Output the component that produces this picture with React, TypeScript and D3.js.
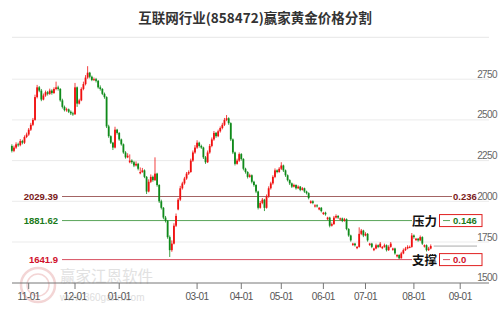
import React from 'react';
import * as d3 from 'd3';

const W = 499;
const H = 309;

const closes = [
  2310, 2330, 2350, 2345, 2370, 2360, 2395, 2410, 2440, 2470,
  2500, 2640, 2700, 2680, 2625, 2650, 2670, 2660, 2680, 2665,
  2690, 2700, 2690, 2620, 2580, 2560, 2565, 2550, 2540, 2535,
  2700, 2600, 2620, 2690, 2720, 2760, 2790, 2765, 2745, 2750,
  2740, 2700, 2690, 2660, 2640, 2460, 2400, 2360, 2330, 2440,
  2420, 2380, 2350, 2300, 2270, 2280, 2250, 2240, 2220, 2230,
  2200, 2180, 2190, 2150, 2060, 2120, 2150, 2130, 2170, 2100,
  2000, 1960, 1900, 1880, 1780, 1700, 1740, 1850, 1910, 2010,
  2080, 2110, 2140, 2170, 2180, 2250, 2300, 2330, 2360, 2340,
  2330, 2270, 2240, 2300, 2340, 2380, 2420, 2400, 2430, 2450,
  2470, 2500, 2510, 2480, 2380, 2300, 2230, 2250, 2290, 2260,
  2200, 2180, 2150, 2160, 2120, 2100, 2060, 1960, 1990, 2010,
  1960, 2030, 2080, 2110, 2150, 2190, 2180, 2200, 2220, 2190,
  2160, 2130, 2110, 2090, 2100, 2080, 2090, 2070, 2080, 2060,
  2050, 2020, 2000, 1990, 1975, 1970, 1960, 1940, 1930, 1920,
  1900, 1850, 1860, 1900, 1910, 1900, 1895, 1880, 1890, 1830,
  1790, 1760, 1740, 1730, 1720, 1800, 1820, 1790, 1800, 1760,
  1740, 1720, 1710, 1730, 1720, 1740, 1720, 1730, 1700, 1720,
  1740, 1710, 1680, 1670, 1650, 1680, 1700, 1710, 1720, 1720,
  1790, 1780, 1770, 1760, 1780, 1740, 1730, 1700, 1710, 1725,
];

const opens = [
  2340, 2310, 2330, 2350, 2345, 2370, 2360, 2395, 2410, 2440,
  2470, 2500, 2640, 2700, 2680, 2625, 2650, 2670, 2660, 2680,
  2665, 2690, 2700, 2690, 2620, 2580, 2560, 2565, 2550, 2540,
  2535, 2700, 2600, 2620, 2690, 2720, 2760, 2790, 2765, 2745,
  2750, 2740, 2700, 2690, 2660, 2640, 2460, 2400, 2360, 2330,
  2440, 2420, 2380, 2350, 2300, 2270, 2240, 2250, 2240, 2220,
  2230, 2172, 2180, 2190, 2150, 2060, 2120, 2150, 2130, 2170,
  2100, 2000, 1960, 1900, 1880, 1780, 1700, 1740, 1850, 1950,
  2010, 2080, 2110, 2140, 2170, 2180, 2250, 2300, 2330, 2360,
  2340, 2330, 2270, 2240, 2300, 2340, 2380, 2420, 2400, 2430,
  2450, 2470, 2500, 2510, 2480, 2380, 2300, 2230, 2250, 2290,
  2260, 2200, 2180, 2150, 2160, 2120, 2100, 2060, 1960, 1990,
  2010, 1960, 2030, 2080, 2110, 2150, 2190, 2180, 2200, 2220,
  2190, 2160, 2130, 2110, 2090, 2100, 2080, 2090, 2070, 2080,
  2060, 2050, 1990, 2000, 1968, 1975, 1950, 1960, 1922, 1930,
  1890, 1900, 1850, 1860, 1900, 1910, 1888, 1895, 1880, 1890,
  1830, 1790, 1732, 1740, 1712, 1720, 1800, 1820, 1790, 1800,
  1732, 1740, 1700, 1710, 1730, 1720, 1712, 1720, 1730, 1700,
  1720, 1702, 1710, 1662, 1670, 1650, 1680, 1700, 1710, 1720,
  1720, 1790, 1762, 1770, 1760, 1780, 1722, 1730, 1700, 1710,
];

const highs = [
  2350, 2342, 2362, 2360, 2382, 2378, 2405, 2422, 2450, 2482,
  2512, 2655, 2715, 2708, 2690, 2662, 2680, 2678, 2692, 2688,
  2700, 2735, 2710, 2695, 2630, 2588, 2575, 2570, 2558, 2550,
  2727, 2705, 2630, 2700, 2735, 2775, 2830, 2795, 2772, 2760,
  2758, 2745, 2712, 2695, 2668, 2645, 2470, 2405, 2365, 2458,
  2445, 2425, 2385, 2355, 2308, 2295, 2288, 2258, 2248, 2245,
  2236, 2208, 2205, 2196, 2155, 2135, 2165, 2158, 2270, 2175,
  2105, 2010, 1965, 1910, 1885, 1790, 1760, 1865, 1925, 2020,
  2095, 2120, 2150, 2180, 2190, 2262, 2312, 2345, 2375, 2366,
  2348, 2335, 2278, 2312, 2352, 2392, 2432, 2426, 2440, 2460,
  2482, 2512, 2530, 2516, 2485, 2386, 2305, 2262, 2300, 2296,
  2265, 2206, 2185, 2170, 2165, 2126, 2105, 2065, 2002, 2020,
  2015, 2042, 2092, 2120, 2160, 2202, 2196, 2210, 2240, 2225,
  2195, 2165, 2135, 2115, 2108, 2104, 2098, 2094, 2088, 2084,
  2065, 2055, 2006, 2006, 1982, 1982, 1965, 1965, 1935, 1936,
  1905, 1905, 1870, 1910, 1920, 1915, 1900, 1900, 1898, 1895,
  1835, 1795, 1745, 1745, 1725, 1840, 1830, 1825, 1810, 1805,
  1745, 1745, 1715, 1740, 1735, 1750, 1725, 1740, 1735, 1730,
  1750, 1715, 1715, 1675, 1675, 1690, 1710, 1720, 1730, 1728,
  1805, 1796, 1775, 1775, 1790, 1785, 1735, 1735, 1720, 1735,
];

const lows = [
  2300, 2302, 2322, 2335, 2338, 2350, 2352, 2388, 2402, 2432,
  2462, 2495, 2632, 2670, 2615, 2620, 2642, 2650, 2654, 2655,
  2660, 2682, 2680, 2612, 2570, 2552, 2550, 2542, 2530, 2525,
  2530, 2580, 2595, 2615, 2682, 2712, 2752, 2755, 2738, 2740,
  2730, 2692, 2680, 2652, 2630, 2450, 2390, 2352, 2315, 2325,
  2410, 2372, 2342, 2292, 2262, 2265, 2234, 2230, 2210, 2214,
  2190, 2166, 2175, 2142, 2045, 2055, 2112, 2120, 2125, 2090,
  1990, 1950, 1890, 1870, 1770, 1658, 1690, 1735, 1842, 1945,
  2002, 2072, 2102, 2132, 2162, 2175, 2242, 2292, 2322, 2330,
  2322, 2260, 2230, 2235, 2292, 2332, 2372, 2390, 2394, 2422,
  2442, 2462, 2492, 2470, 2370, 2290, 2220, 2225, 2242, 2250,
  2190, 2170, 2140, 2145, 2110, 2090, 2050, 1950, 1955, 1982,
  1940, 1955, 2022, 2072, 2102, 2142, 2172, 2175, 2192, 2180,
  2150, 2122, 2100, 2082, 2085, 2072, 2075, 2062, 2066, 2052,
  2042, 2012, 1985, 1982, 1962, 1962, 1945, 1932, 1916, 1912,
  1884, 1840, 1845, 1855, 1894, 1892, 1882, 1872, 1875, 1822,
  1782, 1752, 1726, 1722, 1706, 1715, 1792, 1780, 1785, 1752,
  1726, 1712, 1694, 1705, 1712, 1715, 1706, 1715, 1692, 1695,
  1715, 1696, 1672, 1655, 1645, 1648, 1675, 1695, 1705, 1712,
  1715, 1770, 1756, 1752, 1755, 1732, 1716, 1692, 1695, 1705,
];

const tickIndex = [8, 30, 51, 88, 109, 128, 148, 168, 191, 213];
const tickLabels = ['11-01', '12-01', '01-01', '03-01', '04-01', '05-01', '06-01', '07-01', '08-01', '09-01'];
const priceTicks = [2750, 2500, 2250, 2000, 1750, 1500];
const levelValues = [2029.39, 1881.62, 1641.9];
const levelLabels = ['2029.39', '1881.62', '1641.9'];
const ratioLabels = ['0.236', '0.146', '0.0'];
const boxWords = ['', '压力', '支撑'];
const lastPrice = 1725;
const title = '互联网行业(858472)赢家黄金价格分割';

const UP = '#f01010';
const DOWN = '#0f8a1a';
const NUM_FONT = '"Liberation Sans", Arial, sans-serif';
const CJK_FONT = '"Noto Sans CJK SC", "Noto Sans", sans-serif';

export default function App() {
  const x = d3.scaleLinear().domain([8, 191]).range([28.7, 413.9]);
  const y = d3.scaleLinear().domain([1500, 2750]).range([282.7, 79.2]);
  const left = 12;
  const right = 489;
  const bodyW = 1.8;

  const levelText = ['#7a1a1a', '#1a7a1a', '#d0102a'];
  const levelLine = ['#a36464', '#5aa55a', '#d85060'];

  return (
    <svg width={W} height={H} style={{ position: 'absolute', left: 0, top: 0, background: '#fff' }}>
      <text x={255} y={17} textAnchor="middle" dominantBaseline="central" fontFamily={CJK_FONT}
        fontWeight="bold" fontSize={13.5} fill="#333">{title}</text>

      {/* watermark */}
      <g opacity={0.75}>
        <circle cx={38} cy={285} r={17} fill="none" stroke="#f0c8c8" strokeWidth={2.5} />
        <circle cx={38} cy={285} r={11} fill="none" stroke="#f0c8c8" strokeWidth={1.5} />
        <text x={60} y={275} dominantBaseline="central" fontFamily={CJK_FONT} fontSize={15.5} fill="#d8d8d8">赢家江恩软件</text>
        <text x={60} y={297} dominantBaseline="central" fontFamily={NUM_FONT} fontSize={10} fill="#d4d4d4">www.360gann.com</text>
      </g>

      {/* grid */}
      <line x1={left} x2={right} y1={37.3} y2={37.3} stroke="#e6e6e6" strokeWidth={1} />
      {priceTicks.filter(v => v !== 1500).map(v => (
        <line key={v} x1={left} x2={right} y1={y(v)} y2={y(v)} stroke="#ebebeb" strokeWidth={1} />
      ))}
      {priceTicks.map(v => (
        <text key={'t' + v} x={497} y={y(v) - 1.5} textAnchor="end" fontFamily={NUM_FONT}
          fontSize={10} letterSpacing={-0.6} fill="#666">{v}</text>
      ))}

      {/* level lines */}
      {levelValues.map((v, k) => (
        <g key={'lv' + k}>
          <line x1={62} x2={k === 0 ? 452 : 412} y1={y(v)} y2={y(v)} stroke={levelLine[k]} strokeWidth={1} />
          <text x={58} y={y(v)} textAnchor="end" dominantBaseline="central" fontFamily={NUM_FONT}
            fontWeight="bold" fontSize={9.5} fill={levelText[k]}>{levelLabels[k]}</text>
          {k === 0 ? (
            <text x={453} y={y(v)} dominantBaseline="central" fontFamily={NUM_FONT}
              fontWeight="bold" fontSize={9.5} fill={levelText[k]}>{ratioLabels[k]}</text>
          ) : (
            <g>
              <text x={412} y={y(v)} dominantBaseline="central" fontFamily={CJK_FONT}
                fontWeight="bold" fontSize={12.5} fill="#111">{boxWords[k]}</text>
              <rect x={439.5} y={y(v) - 6} width={42.5} height={12} fill="#fff" stroke="#e02020" strokeWidth={1} />
              <line x1={443} x2={450} y1={y(v)} y2={y(v)} stroke={levelLine[k]} strokeWidth={1} />
              <text x={453} y={y(v)} dominantBaseline="central" fontFamily={NUM_FONT}
                fontWeight="bold" fontSize={9.5} fill={levelText[k]}>{ratioLabels[k]}</text>
            </g>
          )}
        </g>
      ))}

      {/* last price line */}
      <line x1={x(closes.length - 1) + 3} x2={477} y1={y(lastPrice)} y2={y(lastPrice)} stroke="#aaa" strokeWidth={1} />

      {/* candles */}
      {closes.map((c, i) => {
        const o = opens[i];
        const col = c >= o ? UP : DOWN;
        const cx = x(i);
        const top = y(Math.max(o, c));
        const bot = y(Math.min(o, c));
        return (
          <g key={'c' + i}>
            <line x1={cx} x2={cx} y1={y(highs[i])} y2={y(lows[i])} stroke={col} strokeWidth={0.8} />
            <rect x={cx - bodyW / 2} y={top} width={bodyW} height={Math.max(1, bot - top)} fill={col} />
          </g>
        );
      })}

      {/* x axis */}
      <line x1={left} x2={right} y1={283} y2={283} stroke="#777" strokeWidth={1} />
      {tickIndex.map((t, k) => (
        <g key={'x' + k}>
          <line x1={x(t)} x2={x(t)} y1={283} y2={289} stroke="#777" strokeWidth={1} />
          <text x={x(t)} y={300} textAnchor="middle" fontFamily={NUM_FONT} fontSize={10}
            letterSpacing={-0.5} fill="#555">{tickLabels[k]}</text>
        </g>
      ))}
    </svg>
  );
}
